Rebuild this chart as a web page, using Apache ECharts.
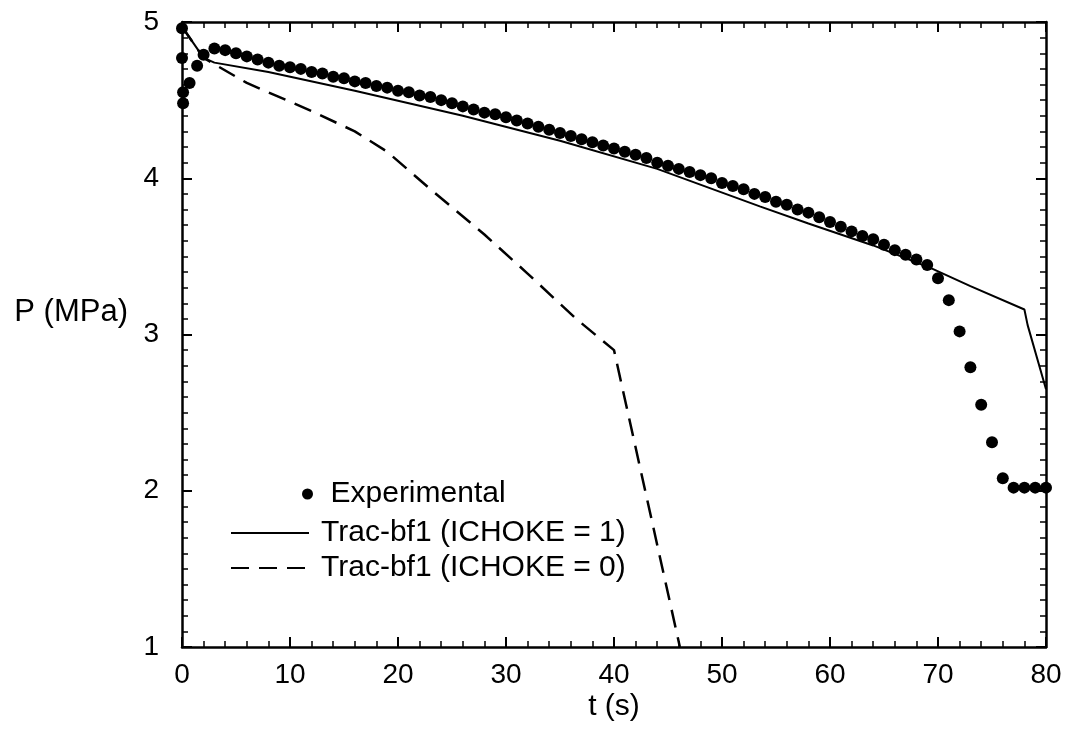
<!DOCTYPE html>
<html>
<head>
<meta charset="utf-8">
<script src="https://cdn.jsdelivr.net/npm/echarts@6/dist/echarts.min.js"></script>
<style>
html,body{margin:0;padding:0;background:#fff;}
#chart{width:1072px;height:742px;}
</style>
</head>
<body>
<div id="chart"></div>
<script>
// Experimental data (t in s, P in MPa)
var expT = [0, 0, 0.1, 0.1, 0.7, 1.4, 2, 3, 4, 5, 6, 7, 8, 9, 10,
  11, 12, 13, 14, 15, 16, 17, 18, 19, 20, 21, 22, 23, 24, 25, 26, 27, 28, 29, 30,
  31, 32, 33, 34, 35, 36, 37, 38, 39, 40, 41, 42, 43, 44, 45, 46, 47, 48, 49, 50,
  51, 52, 53, 54, 55, 56, 57, 58, 59, 60, 61, 62, 63, 64, 65, 66, 67, 68, 69, 70,
  71, 72, 73, 74, 75, 76, 77, 78, 79, 80];
var expP = [4.96, 4.77, 4.55, 4.48, 4.61, 4.72, 4.79, 4.83, 4.82, 4.80, 4.78, 4.76, 4.74, 4.72, 4.71,
  4.70, 4.68, 4.67, 4.65, 4.64, 4.62, 4.61, 4.59, 4.58, 4.56, 4.55, 4.53, 4.52, 4.50, 4.48, 4.46, 4.44, 4.42, 4.41, 4.39,
  4.37, 4.35, 4.33, 4.31, 4.29, 4.27, 4.25, 4.23, 4.21, 4.19, 4.17, 4.15, 4.13, 4.10, 4.08, 4.06, 4.04, 4.02, 4.00, 3.97,
  3.95, 3.93, 3.90, 3.88, 3.85, 3.83, 3.80, 3.78, 3.75, 3.72, 3.69, 3.66, 3.63, 3.61, 3.575, 3.54, 3.51, 3.48, 3.445, 3.36,
  3.22, 3.02, 2.79, 2.55, 2.31, 2.08, 2.02, 2.02, 2.02, 2.02];

// Trac-bf1 (ICHOKE = 1)
var choke1T = [0, 2, 3, 8, 16, 26, 35, 44, 53.5, 58, 64, 69.5, 73, 78, 78.3, 80];
var choke1P = [4.97, 4.77, 4.74, 4.68, 4.56, 4.40, 4.24, 4.06, 3.82, 3.71, 3.57, 3.42, 3.31, 3.16, 3.06, 2.65];

// Trac-bf1 (ICHOKE = 0)
var choke0T = [0, 2, 3, 6, 12, 16, 19, 23, 28, 32, 36.5, 40, 46.1];
var choke0P = [4.97, 4.77, 4.73, 4.61, 4.43, 4.30, 4.17, 3.93, 3.64, 3.39, 3.10, 2.90, 1.00];

var xTicks = {min: 0, max: 80, interval: 10};
var yTicks = {min: 1, max: 5, interval: 1};

var seriesNames = ['Experimental', 'Trac-bf1 (ICHOKE = 1)', 'Trac-bf1 (ICHOKE = 0)'];
var xName = 't (s)';
var yName = 'P (MPa)';

function pairs(a, b) { return a.map(function (v, i) { return [v, b[i]]; }); }

var FONT = 'Liberation Sans, Arial, Helvetica, sans-serif';
var black = '#000';

function axisCommon(showLabel) {
  return {
    type: 'value',
    axisLine: {show: true, onZero: false, lineStyle: {color: black, width: 2.5}},
    axisTick: {show: true, inside: true, length: 10, lineStyle: {color: black, width: 2}},
    minorTick: {show: true, length: 6, lineStyle: {color: black, width: 1.5}},
    splitLine: {show: false},
    axisLabel: {show: showLabel, color: black, fontFamily: FONT, fontSize: 28}
  };
}

var xMain = Object.assign(axisCommon(true), {
  position: 'bottom', min: xTicks.min, max: xTicks.max, interval: xTicks.interval,
  name: xName, nameLocation: 'middle', nameGap: 45, nameMoveOverlap: false,
  nameTextStyle: {color: black, fontFamily: FONT, fontSize: 30}
});
xMain.minorTick.splitNumber = 5;
xMain.axisLabel.margin = 14;

var xTop = Object.assign(axisCommon(false), {
  position: 'top', min: xTicks.min, max: xTicks.max, interval: xTicks.interval
});
xTop.minorTick.splitNumber = 5;

var yMain = Object.assign(axisCommon(true), {
  position: 'left', min: yTicks.min, max: yTicks.max, interval: yTicks.interval,
  name: yName, nameLocation: 'middle', nameRotate: 0, nameGap: 54, nameMoveOverlap: false,
  nameTextStyle: {color: black, fontFamily: FONT, fontSize: 31, verticalAlign: 'bottom', lineHeight: 44}
});
yMain.minorTick.splitNumber = 10;
yMain.axisLabel.margin = 23;

var yRight = Object.assign(axisCommon(false), {
  position: 'right', min: yTicks.min, max: yTicks.max, interval: yTicks.interval
});
yRight.minorTick.splitNumber = 10;

var chart = echarts.init(document.getElementById('chart'), null, {renderer: 'canvas'});
chart.setOption({
  backgroundColor: '#fff',
  animation: false,
  grid: {left: 182, right: 26, top: 22, bottom: 95, containLabel: false},
  xAxis: [xMain, xTop],
  yAxis: [yMain, yRight],
  legend: [
    {
      data: [seriesNames[0]], left: 297, top: 474, orient: 'vertical',
      icon: 'circle', itemWidth: 36, itemHeight: 11,
      textStyle: {color: black, fontFamily: FONT, fontSize: 30, lineHeight: 30}
    },
    {
      data: [seriesNames[1], seriesNames[2]], left: 225, top: 513, orient: 'vertical',
      itemWidth: 78, itemHeight: 14, itemGap: 5,
      itemStyle: {opacity: 0},
      textStyle: {color: black, fontFamily: FONT, fontSize: 30, lineHeight: 30, padding: [0, 0, 0, 7]}
    }
  ],
  series: [
    {
      name: seriesNames[1], type: 'line', data: pairs(choke1T, choke1P),
      symbol: 'none', showSymbol: false, z: 2,
      lineStyle: {color: black, width: 2},
      itemStyle: {color: black}
    },
    {
      name: seriesNames[2], type: 'line', data: pairs(choke0T, choke0P),
      symbol: 'none', showSymbol: false, z: 2,
      lineStyle: {color: black, width: 2.5, type: [18, 10]},
      itemStyle: {color: black}
    },
    {
      name: seriesNames[0], type: 'scatter', data: pairs(expT, expP),
      symbol: 'circle', symbolSize: 12, z: 3,
      itemStyle: {color: black, opacity: 1}
    }
  ]
});
</script>
</body>
</html>
